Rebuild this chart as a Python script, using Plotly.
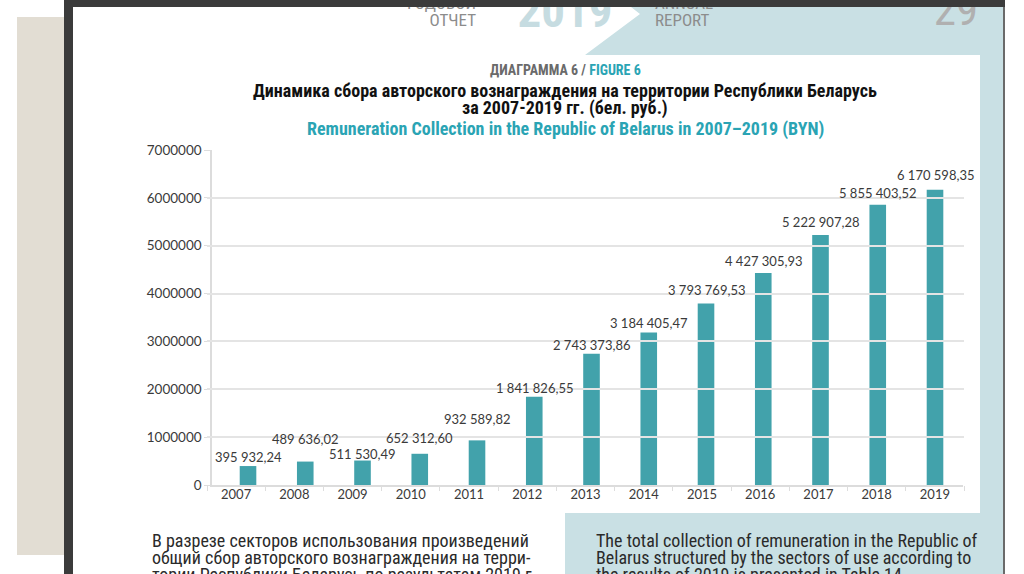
import plotly.graph_objects as go

# ---------------- data ----------------
years = ["2007", "2008", "2009", "2010", "2011", "2012", "2013",
         "2014", "2015", "2016", "2017", "2018", "2019"]
values = [395932.24, 489636.02, 511530.49, 652312.60, 932589.82, 1841826.55,
          2743373.86, 3184405.47, 3793769.53, 4427305.93, 5222907.28,
          5855403.52, 6170598.35]

title_ru_1 = "Динамика сбора авторского вознаграждения на территории Республики Беларусь"
title_ru_2 = "за 2007-2019 гг. (бел. руб.)"
title_en = "Remuneration Collection in the Republic of Belarus in 2007–2019 (BYN)"
fig_label_ru = "ДИАГРАММА 6 / "
fig_label_en = "FIGURE 6"
body_ru = ["В разрезе секторов использования произведений",
           "общий сбор авторского вознаграждения на терри-",
           "тории Республики Беларусь по результатам 2019 г."]
body_en = ["The total collection of remuneration in the Republic of",
           "Belarus structured by the sectors of use according to",
           "the results of 2019 is presented in Table 14."]

# ---------------- style ----------------
W, H = 1024, 574
BAR = "#42a2ab"
TEAL_TXT = "#2aa4b4"
BLUE_BG = "#c9e0e4"
BEIGE = "#e2ddd3"
DARK = "#3b3b3b"
NUM_FONT = "Lato, Open Sans, sans-serif"
COND = "Liberation Sans Narrow, Roboto Condensed, Roboto, sans-serif"
label_dy = [9, 23, 7, 16, 21, 9, 9, 10, 13, 12, 13, 12, 15]  # px above bar tops


def fx(x):
    return x / W


def fy(y):
    return 1 - y / H


def fmt(v):
    return f"{v:,.2f}".replace(",", " ").replace(".", ",")


fig = go.Figure()

fig.add_trace(go.Bar(x=years, y=values, marker=dict(color=BAR, line=dict(width=0)),
                     width=0.29, xaxis="x", yaxis="y", hoverinfo="x+y",
                     showlegend=False))
# helper trace so the tick-label axis is drawn
fig.add_trace(go.Scatter(x=years, y=values, mode="markers", marker=dict(opacity=0),
                         xaxis="x2", yaxis="y", hoverinfo="skip", showlegend=False))

# page header texts (partly hidden under the dark top bar)
fig.add_trace(go.Scatter(
    x=[476, 476, 565, 655, 655, 956],
    y=[5, 22, 15, 5, 22, 14],
    text=["ГОДОВОЙ", "ОТЧЕТ", "<b>2019</b>", "ANNUAL", "REPORT", "29"],
    mode="text",
    textposition=["middle left", "middle left", "middle center",
                  "middle right", "middle right", "middle center"],
    textfont=dict(family=COND,
                  size=[17, 17, 47, 17, 17, 45],
                  color=["#8c8c8c", "#8c8c8c", "#c6dce1", "#8c8c8c", "#8c8c8c", "#b0b0b0"]),
    xaxis="x3", yaxis="y3", hoverinfo="skip", showlegend=False, cliponaxis=False))

shapes = [
    dict(type="rect", xref="paper", yref="paper", x0=fx(17), x1=fx(64), y0=fy(555), y1=fy(17),
         fillcolor=BEIGE, line=dict(width=0), layer="below"),
    dict(type="rect", xref="paper", yref="paper", x0=fx(64), x1=fx(73), y0=fy(574), y1=fy(0),
         fillcolor=DARK, line=dict(width=0), layer="below"),
    dict(type="path", xref="paper", yref="paper",
         path=f"M {fx(622)},{fy(0)} L {fx(640)},{fy(14)} L {fx(585)},{fy(55)} "
              f"L {fx(1003)},{fy(55)} L {fx(1003)},{fy(0)} Z",
         fillcolor=BLUE_BG, line=dict(width=0), layer="below"),
    dict(type="rect", xref="paper", yref="paper", x0=fx(980), x1=fx(1003), y0=fy(513), y1=fy(55),
         fillcolor=BLUE_BG, line=dict(width=0), layer="below"),
    dict(type="rect", xref="paper", yref="paper", x0=fx(565), x1=fx(1003), y0=fy(574), y1=fy(513),
         fillcolor=BLUE_BG, line=dict(width=0), layer="below"),
    dict(type="rect", xref="paper", yref="paper", x0=fx(1003), x1=fx(1005), y0=fy(574), y1=fy(0),
         fillcolor="#6a6a6a", line=dict(width=0), layer="below"),
    dict(type="rect", xref="paper", yref="paper", x0=fx(64), x1=fx(1005), y0=fy(7), y1=fy(0),
         fillcolor=DARK, line=dict(width=0), layer="above"),
]

annotations = []
for i, (v, dy) in enumerate(zip(values, label_dy)):
    annotations.append(dict(x=i, y=v, xref="x", yref="y", text=fmt(v), showarrow=False,
                            yanchor="middle", xanchor="center", yshift=dy,
                            font=dict(family=NUM_FONT, size=13, color="#3a3a3a")))

annotations += [
    dict(x=fx(565), y=fy(70), xref="paper", yref="paper", showarrow=False,
         text=f"<b>{fig_label_ru}<span style='color:{TEAL_TXT}'>{fig_label_en}</span></b>",
         font=dict(family=COND, size=14, color="#6a6a6a"), xanchor="center", yanchor="middle"),
    dict(x=fx(565), y=fy(90), xref="paper", yref="paper", showarrow=False,
         text=f"<b>{title_ru_1}</b>", font=dict(family=COND, size=18, color="#111111"),
         xanchor="center", yanchor="middle"),
    dict(x=fx(565), y=fy(108), xref="paper", yref="paper", showarrow=False,
         text=f"<b>{title_ru_2}</b>", font=dict(family=COND, size=18, color="#111111"),
         xanchor="center", yanchor="middle"),
    dict(x=fx(565), y=fy(129), xref="paper", yref="paper", showarrow=False,
         text=f"<b>{title_en}</b>", font=dict(family=COND, size=18, color=TEAL_TXT),
         xanchor="center", yanchor="middle"),
]
for i, (lr, le) in enumerate(zip(body_ru, body_en)):
    yy = 540 + 17 * i
    annotations.append(dict(x=fx(150), y=fy(yy), xref="paper", yref="paper", showarrow=False,
                            text=lr, font=dict(family=COND, size=18, color="#2a2a2a"),
                            xanchor="left", yanchor="middle"))
    annotations.append(dict(x=fx(594), y=fy(yy), xref="paper", yref="paper", showarrow=False,
                            text=le, font=dict(family=COND, size=18, color="#2a2a2a"),
                            xanchor="left", yanchor="middle"))

fig.update_layout(
    width=W, height=H,
    autosize=False,
    margin=dict(l=0, r=0, t=0, b=0, pad=0, autoexpand=False),
    paper_bgcolor="white",
    plot_bgcolor="rgba(0,0,0,0)",
    showlegend=False,
    shapes=shapes,
    annotations=annotations,
    xaxis=dict(domain=[fx(212), fx(963)], type="category", range=[-0.629, 12.489],
               showticklabels=False, ticks="", showgrid=False, zeroline=False,
               showline=True, linecolor="#dcdcdc", linewidth=1.5, anchor="y",
               fixedrange=True, automargin=False),
    xaxis2=dict(domain=[fx(207), fx(964)], type="category", anchor="y",
                range=[-0.5, 12.5], automargin=False,
                showgrid=False, zeroline=False, showline=False,
                ticks="outside", tickson="boundaries", ticklen=5, tickcolor="#dddddd",
                tickfont=dict(family=NUM_FONT, size=13, color="#3a3a3a"),
                fixedrange=True),
    yaxis=dict(domain=[fy(485), fy(150)], range=[0, 7000000], dtick=1000000,
               tickformat="d", anchor="x", showline=True, linecolor="#dcdcdc",
               linewidth=1.5, gridcolor="#e4e4e4", gridwidth=1.5, zeroline=False,
               ticks="outside", ticklen=6, tickcolor="#dddddd", automargin=False,
               tickfont=dict(family=NUM_FONT, size=13.5, color="#3a3a3a"),
               fixedrange=True),
    xaxis3=dict(domain=[0, 1], range=[0, W], visible=False, anchor="y3",
                fixedrange=True, automargin=False),
    yaxis3=dict(domain=[0, 1], range=[H, 0], visible=False, anchor="x3",
                fixedrange=True, automargin=False),
)

fig.write_html("out.html", config={"displayModeBar": False},
               post_script="document.body.style.margin='0';document.body.style.overflow='hidden';")
